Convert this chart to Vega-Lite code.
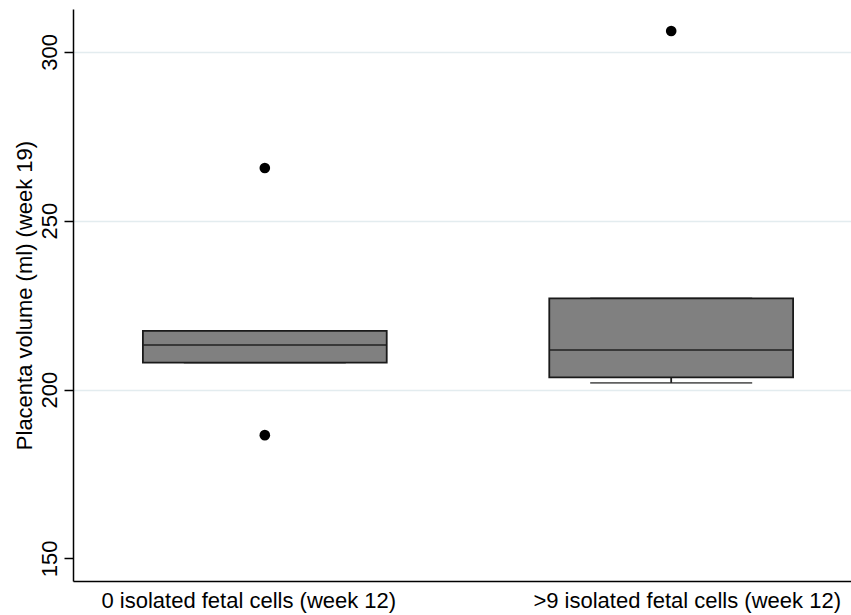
{
  "$schema": "https://vega.github.io/schema/vega-lite/v6.json",
  "autosize": {"type": "none"},
  "padding": {"left": 73, "top": 9, "right": 0, "bottom": 34},
  "width": 778,
  "height": 572,
  "background": "white",
  "config": {"view": {"stroke": null}, "font": "Liberation Sans"},
  "datasets": {
    "boxes": [
      {"group": "0 isolated fetal cells (week 12)", "lo": 208.0, "q1": 208.0, "median": 213.2, "q3": 217.4, "hi": 217.4},
      {"group": ">9 isolated fetal cells (week 12)", "lo": 202.0, "q1": 203.6, "median": 211.7, "q3": 227.0, "hi": 227.0}
    ],
    "outliers": [
      {"group": "0 isolated fetal cells (week 12)", "value": 265.6},
      {"group": "0 isolated fetal cells (week 12)", "value": 186.5},
      {"group": ">9 isolated fetal cells (week 12)", "value": 306.2}
    ]
  },
  "encoding": {
    "x": {
      "field": "group",
      "type": "nominal",
      "sort": ["0 isolated fetal cells (week 12)", ">9 isolated fetal cells (week 12)"],
      "scale": {"range": [0, 790], "paddingInner": 0.4, "paddingOuter": 0.172},
      "axis": {
        "title": null,
        "ticks": false,
        "grid": false,
        "labelAngle": 0,
        "labelLimit": 0,
        "labelFont": "Liberation Sans",
        "labelFontSize": 22,
        "labelColor": "black",
        "labelPadding": 9,
        "labelOffset": {"condition": {"test": "datum.value == '0 isolated fetal cells (week 12)'", "value": -16}, "value": 16},
        "domainColor": "black",
        "domainWidth": 1.5
      }
    }
  },
  "layer": [
    {
      "data": {"name": "boxes"},
      "mark": {"type": "rule", "color": "#1e1e1e", "strokeWidth": 1.8},
      "encoding": {
        "y": {"field": "lo", "type": "quantitative", "scale": {"domain": [143.3, 312.7], "nice": false, "zero": false},
          "axis": {
            "values": [150, 200, 250, 300],
            "title": "Placenta volume (ml) (week 19)",
            "titleFont": "Liberation Sans",
            "titleFontSize": 22,
            "titleFontWeight": "normal",
            "titleColor": "black",
            "titlePadding": 2,
            "labelFont": "Liberation Sans",
            "labelFontSize": 22,
            "labelColor": "black",
            "labelAngle": 270,
            "labelAlign": "center",
            "labelBaseline": "alphabetic",
            "labelPadding": 8,
            "tickSize": 9,
            "tickColor": "black",
            "tickWidth": 1.5,
            "domainColor": "black",
            "domainWidth": 1.5,
            "grid": true,
            "gridColor": "#e3ecef",
            "gridWidth": 1.5,
            "gridOpacity": {"condition": {"test": "datum.value == 150", "value": 0}, "value": 1}
          }
        },
        "y2": {"field": "q1"}
      }
    },
    {
      "data": {"name": "boxes"},
      "mark": {"type": "rule", "color": "#1e1e1e", "strokeWidth": 1.8},
      "encoding": {
        "y": {"field": "q3", "type": "quantitative"},
        "y2": {"field": "hi"}
      }
    },
    {
      "data": {"name": "boxes"},
      "mark": {"type": "tick", "color": "#1e1e1e", "thickness": 1.8, "size": 162, "orient": "horizontal"},
      "encoding": {"y": {"field": "lo", "type": "quantitative"}}
    },
    {
      "data": {"name": "boxes"},
      "mark": {"type": "tick", "color": "#1e1e1e", "thickness": 1.8, "size": 162, "orient": "horizontal"},
      "encoding": {"y": {"field": "hi", "type": "quantitative"}}
    },
    {
      "data": {"name": "boxes"},
      "mark": {"type": "bar", "fill": "#808080", "stroke": "#1a1a1a", "strokeWidth": 1.8},
      "encoding": {
        "y": {"field": "q1", "type": "quantitative"},
        "y2": {"field": "q3"}
      }
    },
    {
      "data": {"name": "boxes"},
      "mark": {"type": "tick", "color": "#1a1a1a", "thickness": 2, "size": 243, "orient": "horizontal"},
      "encoding": {"y": {"field": "median", "type": "quantitative"}}
    },
    {
      "data": {"name": "outliers"},
      "mark": {"type": "point", "shape": "circle", "filled": true, "color": "black", "opacity": 1, "size": 113},
      "encoding": {"y": {"field": "value", "type": "quantitative"}}
    }
  ]
}
